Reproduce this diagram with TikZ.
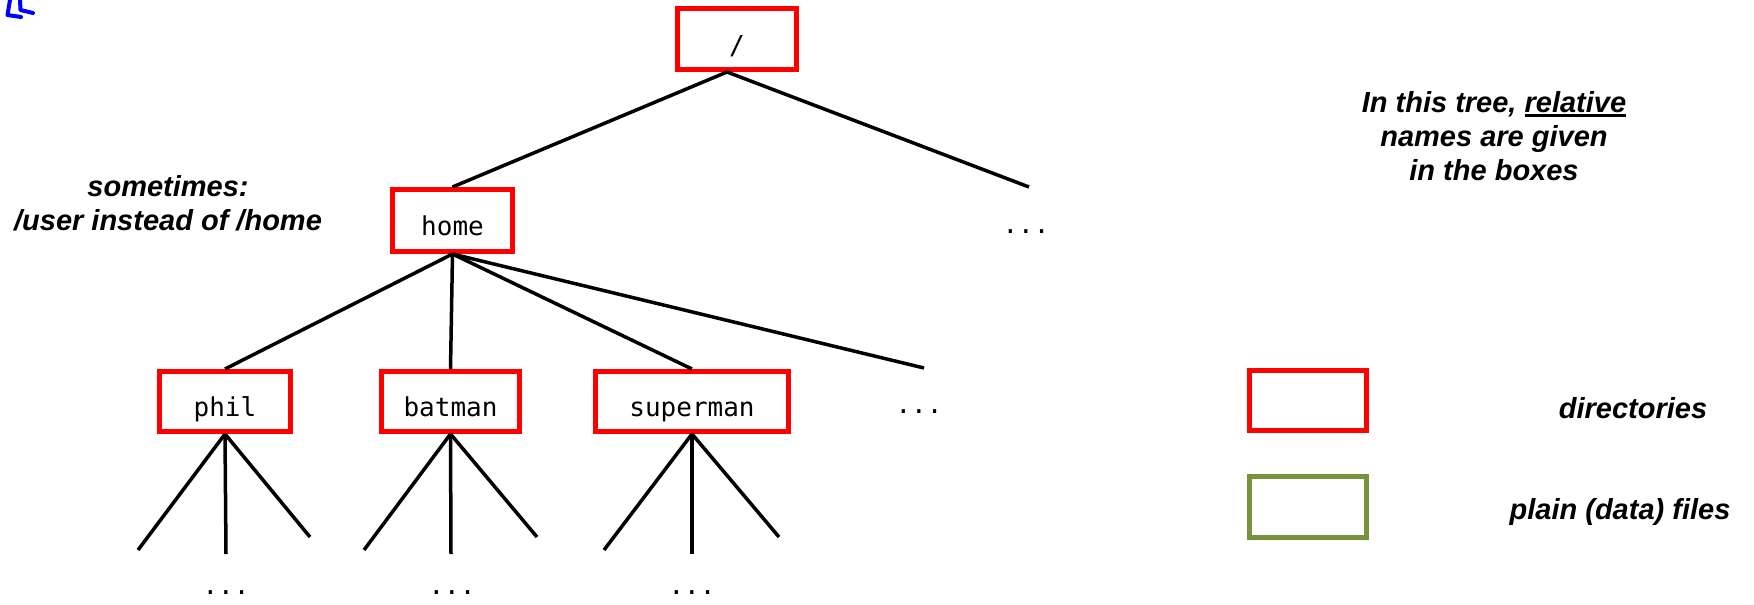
\documentclass[tikz,border=0pt]{standalone}
\usepackage{fontspec}
\setmainfont{Liberation Sans}
\setmonofont{DejaVu Sans Mono}
\definecolor{olivegreen}{RGB}{119,147,60}
\newcommand\myul[1]{\setbox0\hbox{#1}\rlap{\rule[-5pt]{\wd0}{3pt}}\box0}
\begin{document}
\begin{tikzpicture}[x=1pt,y=-1pt,
  dirbox/.style={draw=red, line width=5pt, inner sep=0pt,
    font=\ttfamily\fontsize{26}{30}\selectfont, text height=35pt, text depth=5pt},
  legbox/.style={line width=5pt, inner sep=0pt, minimum width=117pt, minimum height=60pt},
  edge/.style={line width=3.5pt, black},
  dots/.style={font=\ttfamily\fontsize{26}{30}\selectfont, inner sep=0pt},
  lbl/.style={font=\bfseries\itshape\fontsize{29}{34}\selectfont, align=center, inner sep=0pt}]
\useasboundingbox (0,0) rectangle (1754,605);

% stray blue mark at top-left
\draw[blue, line width=4pt, line cap=round, line join=round]
  (10,0) -- (7.5,15) -- (21,17) (20,0) -- (20.5,10) -- (33,13);

% directory boxes
\node[dirbox, minimum width=119pt, minimum height=61pt] (root) at (737,39) {/};
\node[dirbox, minimum width=120pt, minimum height=62pt] (home) at (452.5,220.5) {home};
\node[dirbox, minimum width=131pt, minimum height=60pt] (phil) at (225,401.5) {phil};
\node[dirbox, minimum width=138pt, minimum height=60pt] (batman) at (450.5,401.5) {batman};
\node[dirbox, minimum width=193pt, minimum height=60pt] (superman) at (692,401.5) {superman};

% free ends
\coordinate (r2) at (1029,187);
\coordinate (h4) at (924,368);
\coordinate (p1) at (138,550);
\coordinate (p2) at (226,554);
\coordinate (p3) at (310,537);
\coordinate (b1) at (364,550);
\coordinate (b2) at (451,554);
\coordinate (b3) at (537,537);
\coordinate (s1) at (604,550);
\coordinate (s2) at (692,554);
\coordinate (s3) at (779,537);

% dots
\node[dots] (d1) at (1026,232) {...};
\node[dots] (d2) at (919,412) {...};
\node[dots] (d3) at (226,593) {...};
\node[dots] (d4) at (452,593) {...};
\node[dots] (d5) at (692,593) {...};

% connectors
\draw[edge] ([xshift=-10pt]root.south) -- (home.north);
\draw[edge] ([xshift=-10pt]root.south) -- (r2);
\draw[edge] (home.south) -- (phil.north);
\draw[edge] (home.south) -- (batman.north);
\draw[edge] (home.south) -- (superman.north);
\draw[edge] (home.south) -- (h4);
\foreach \n/\c in {phil/p, batman/b, superman/s}{
  \draw[edge] (\n.south) -- (\c1);
  \draw[edge] (\n.south) -- (\c2);
  \draw[edge] (\n.south) -- (\c3);
}

% labels
\node[lbl] (note1) at (168,203) {sometimes:\\/user instead of /home};
\node[lbl] (note2) at (1494,136) {In this tree, \myul{relative}\\names are given\\in the boxes};

% legend
\node[legbox, draw=red] (legdir) at (1308,400.5) {};
\node[legbox, draw=olivegreen, minimum height=61pt] (legfile) at (1308,507) {};
\node[lbl] (ldir) at (1633,408) {directories};
\node[lbl] (lfile) at (1620,512) {plain (data) files};
\end{tikzpicture}
\end{document}
